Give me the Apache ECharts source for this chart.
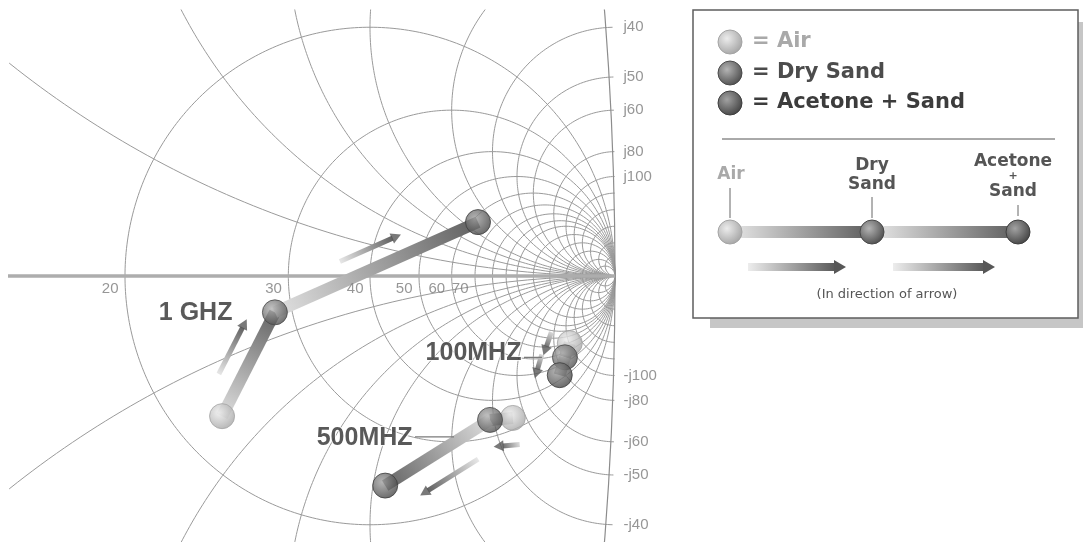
<!DOCTYPE html>
<html>
<head>
<meta charset="utf-8">
<script src="https://cdn.jsdelivr.net/npm/echarts@6/dist/echarts.min.js"></script>
<style>
  html, body { margin: 0; padding: 0; background: #fff; }
  #chart { width: 1083px; height: 542px; }
</style>
</head>
<body>
<div id="chart"></div>
<script>
/* ------------------------------------------------------------------ */
/*  data                                                              */
/* ------------------------------------------------------------------ */
const materials = ['Air', 'Dry Sand', 'Acetone + Sand'];
const frequencyNames = ['1 GHZ', '100MHZ', '500MHZ'];

// impedance (ohms), one value per material
const resistance1GHz = [22.2, 28.5, 62.2];
const reactance1GHz = [-7.8, -3.0, 24.1];
const resistance100MHz = [69, 55, 43];
const reactance100MHz = [-101, -88, -76];
const resistance500MHz = [33.4, 34.3, 23.6];
const reactance500MHz = [-45.7, -38.9, -21.2];

// chart grid (ohms)
const resistanceCircles = [20, 30, 40, 50, 60, 70, 80, 90, 100, 120, 150, 200, 300, 500];
const resistanceTicks = [20, 30, 40, 50, 60, 70];
const reactanceArcs = [5, 10, 15, 20, 30, 40, 50, 60, 80, 100, 120, 150, 200, 300, 500];
const reactanceTicks = [40, 50, 60, 80, 100];
const edgeResistance = 1.5;

/* ------------------------------------------------------------------ */
/*  layout / styles                                                   */
/* ------------------------------------------------------------------ */
const KX = 9.8;   // px per mS, horizontal
const KY = 9.95;  // px per mS, vertical
const ORIGIN_X = 615;
const ORIGIN_Y = 276;
const GRID = { left: 10, top: 10, right: 463, bottom: 0 };

// [t start, t end, side offset px] for the small direction arrows, per segment
const arrowPlacement = [
  [[0.31, 0.76, 22], [0.36, 0.62, 20]],
  [[-0.3, 0.74, -21], [0.2, 1.05, -23]],
  [[-0.2, 0.55, 27], [0.25, 0.73, 27]],
];
// frequency caption: gap left of the Dry Sand marker, vertical shift, leader line
const captionPlacement = [
  { distance: 42, dy: 1, leader: null },
  { distance: 43, dy: -4, leader: [-41, -23, 0] },
  { distance: 77, dy: 18, leader: [-75, -36, 17] },
];

const sphere = (c0, c1) =>
  new echarts.graphic.RadialGradient(0.38, 0.36, 0.66, [
    { offset: 0, color: c0 },
    { offset: 1, color: c1 },
  ]);
const materialFill = () => [
  sphere('#ececec', '#a6a6a6'),
  sphere('#b4b4b4', '#505050'),
  sphere('#a2a2a2', '#464646'),
];
const materialBorder = ['#a4a4a4', '#4a4a4a', '#3e3e3e'];
const materialText = ['#a9a9a9', '#4c4c4c', '#3c3c3c'];

/* ------------------------------------------------------------------ */
/*  impedance -> admittance plane (mS), drawn as [-G, -B]             */
/* ------------------------------------------------------------------ */
const toPlane = (r, x) => {
  if (!isFinite(r)) return [0, 0];
  const m = r * r + x * x;
  return [(-1000 * r) / m, (1000 * x) / m];
};

const resistanceCircle = r => {
  const pts = [[0, 0]];
  const n = 400;
  for (let i = 1; i < n; i++) {
    const t = -Math.PI / 2 + (Math.PI * i) / n;
    pts.push(toPlane(r, r * Math.tan(t)));
  }
  pts.push([0, 0]);
  return pts;
};

const reactanceArc = x => {
  const pts = [];
  const n = 300;
  const t0 = Math.atan(0.4 / Math.abs(x));
  for (let i = 0; i < n; i++) {
    const t = t0 + ((Math.PI / 2 - t0) * i) / n;
    pts.push(toPlane(Math.abs(x) * Math.tan(t), x));
  }
  pts.push([0, 0]);
  return pts;
};

// shift a plane point by screen pixels
const nudge = (p, dx, dy) => [p[0] + dx / KX, p[1] - dy / KY];

const gradientAlong = (p, q, from, to) =>
  new echarts.graphic.LinearGradient(
    q[0] >= p[0] ? 0 : 1,
    p[1] >= q[1] ? 0 : 1,
    q[0] >= p[0] ? 1 : 0,
    p[1] >= q[1] ? 1 : 0,
    [
      { offset: 0, color: from },
      { offset: 1, color: to },
    ]
  );

const frequencySets = [
  { name: frequencyNames[0], r: resistance1GHz, x: reactance1GHz },
  { name: frequencyNames[1], r: resistance100MHz, x: reactance100MHz },
  { name: frequencyNames[2], r: resistance500MHz, x: reactance500MHz },
];

/* ------------------------------------------------------------------ */
/*  series                                                            */
/* ------------------------------------------------------------------ */
const series = [];

const plainLine = (data, width, color, z) => ({
  type: 'line',
  data,
  symbol: 'none',
  showSymbol: false,
  silent: true,
  animation: false,
  clip: true,
  z,
  lineStyle: { width, color, cap: 'butt' },
  emphasis: { disabled: true },
});

resistanceCircles.forEach(r => series.push(plainLine(resistanceCircle(r), 1, '#9a9a9a', 1)));
reactanceArcs.forEach(x => {
  series.push(plainLine(reactanceArc(x), 1, '#9a9a9a', 1));
  series.push(plainLine(reactanceArc(-x), 1, '#9a9a9a', 1));
});
series.push(plainLine(resistanceCircle(edgeResistance), 1.2, '#8c8c8c', 1));
series.push(plainLine([toPlane(5, 0), [0, 0]], 3.5, '#adadad', 2));

// tick labels
series.push({
  type: 'scatter',
  data: resistanceTicks.map(r => [...toPlane(r, 0), r]),
  symbolSize: 1,
  itemStyle: { color: 'rgba(0,0,0,0)' },
  silent: true,
  clip: false,
  z: 6,
  label: {
    show: true,
    position: 'left',
    distance: 6,
    offset: [0, 13],
    formatter: p => String(p.value[2]),
    fontFamily: 'Liberation Sans',
    fontSize: 15,
    color: '#7c7c7c',
  },
});
series.push({
  type: 'scatter',
  data: reactanceTicks
    .flatMap(x => [x, -x])
    .map(x => [...toPlane(0, x), x]),
  symbolSize: 1,
  itemStyle: { color: 'rgba(0,0,0,0)' },
  silent: true,
  clip: false,
  z: 6,
  label: {
    show: true,
    position: 'right',
    distance: 8,
    formatter: p => (p.value[2] > 0 ? 'j' : '-j') + Math.abs(p.value[2]),
    fontFamily: 'Liberation Sans',
    fontSize: 15,
    color: '#7c7c7c',
  },
});

// measurement bars and direction arrows
const arrowHeads = [];
frequencySets.forEach((f, fi) => {
  const pts = f.r.map((r, i) => toPlane(r, f.x[i]));
  for (let s = 0; s < 2; s++) {
    const p = pts[s];
    const q = pts[s + 1];
    series.push({
      ...plainLine([p, q], 12, gradientAlong(p, q, '#e6e6e6', '#5c5c5c'), 3),
      clip: false,
    });

    const [t0, t1, off] = arrowPlacement[fi][s];
    const a = [p[0] * KX, p[1] * KY];
    const b = [q[0] * KX, q[1] * KY];
    const len = Math.hypot(b[0] - a[0], b[1] - a[1]);
    const d = [(b[0] - a[0]) / len, (b[1] - a[1]) / len];
    const nrm = [-d[1], d[0]];
    const at = (t, extra) => [
      (a[0] + d[0] * (t * len + extra) + nrm[0] * off) / KX,
      (a[1] + d[1] * (t * len + extra) + nrm[1] * off) / KY,
    ];
    const s0 = at(t0, 0);
    const s1 = at(t1, 0);
    series.push({
      ...plainLine([s0, s1], 5, gradientAlong(s0, s1, '#efefef', '#5a5a5a'), 4),
      clip: false,
    });
    arrowHeads.push({
      value: at(t1, 4),
      symbolRotate: (Math.atan2(d[1], d[0]) * 180) / Math.PI - 90,
    });
  }
});
series.push({
  type: 'scatter',
  data: arrowHeads,
  symbol: 'triangle',
  symbolSize: [11, 10],
  itemStyle: { color: '#575757' },
  silent: true,
  clip: false,
  animation: false,
  z: 4,
});

// material markers
const fills = materialFill();
materials.forEach((m, i) => {
  series.push({
    type: 'scatter',
    name: m,
    data: frequencySets.map(f => toPlane(f.r[i], f.x[i])),
    symbolSize: 25,
    itemStyle: { color: fills[i], borderColor: materialBorder[i], borderWidth: 1 },
    silent: true,
    clip: false,
    animation: false,
    z: 5,
  });
});

// frequency captions and leader lines
frequencySets.forEach((f, fi) => {
  const dry = toPlane(f.r[1], f.x[1]);
  const place = captionPlacement[fi];
  if (place.leader) {
    const [from, to, dy] = place.leader;
    series.push(plainLine([nudge(dry, from, dy), nudge(dry, to, dy)], 1.2, '#7a7a7a', 6));
  }
  series.push({
    type: 'scatter',
    data: [dry],
    symbolSize: 1,
    itemStyle: { color: 'rgba(0,0,0,0)' },
    silent: true,
    clip: false,
    z: 7,
    label: {
      show: true,
      position: 'left',
      distance: place.distance,
      offset: [0, place.dy],
      formatter: f.name,
      fontFamily: 'Liberation Sans',
      fontWeight: 'bold',
      fontSize: 25,
      color: '#303030',
      textBorderColor: '#fff',
      textBorderWidth: 2,
    },
  });
});

/* ------------------------------------------------------------------ */
/*  key box (drawn on the right)                                      */
/* ------------------------------------------------------------------ */
const keyFills = materialFill();
const boldFont = size => `bold ${size}px "DejaVu Sans"`;
const keyRows = [42, 73, 103];
const keyLineY = 232;
const keyX = [730, 872, 1018];

const graphic = [
  { type: 'rect', z: 10, shape: { x: 710, y: 22, width: 373, height: 306 }, style: { fill: '#c6c6c6' } },
  {
    type: 'rect',
    z: 11,
    shape: { x: 693, y: 10, width: 385, height: 308 },
    style: { fill: '#fff', stroke: '#5e5e5e', lineWidth: 1.5 },
  },
  { type: 'line', z: 12, shape: { x1: 722, y1: 139, x2: 1055, y2: 139 }, style: { stroke: '#555', lineWidth: 1 } },
];

materials.forEach((m, i) => {
  graphic.push({
    type: 'circle',
    z: 13,
    shape: { cx: 730, cy: keyRows[i], r: 12 },
    style: { fill: keyFills[i], stroke: materialBorder[i], lineWidth: 1 },
  });
  graphic.push({
    type: 'text',
    z: 13,
    x: 752,
    y: keyRows[i],
    style: { text: '= ' + m, font: boldFont(21), fill: materialText[i], align: 'left', verticalAlign: 'middle' },
  });
});

// bars between the three states
[[0, 1], [1, 2]].forEach(([s, e]) => {
  graphic.push({
    type: 'rect',
    z: 12,
    shape: { x: keyX[s], y: keyLineY - 6, width: keyX[e] - keyX[s], height: 12 },
    style: {
      fill: new echarts.graphic.LinearGradient(0, 0, 1, 0, [
        { offset: 0, color: '#e8e8e8' },
        { offset: 1, color: '#5c5c5c' },
      ]),
    },
  });
});
materials.forEach((m, i) => {
  graphic.push({
    type: 'circle',
    z: 13,
    shape: { cx: keyX[i], cy: keyLineY, r: 12 },
    style: { fill: keyFills[i], stroke: materialBorder[i], lineWidth: 1 },
  });
});

// captions above the key line
const tick = (x, y1, y2) => ({
  type: 'line',
  z: 12,
  shape: { x1: x, y1, x2: x, y2 },
  style: { stroke: '#666', lineWidth: 1 },
});
const caption = (text, x, y, size, fill) => ({
  type: 'text',
  z: 13,
  x,
  y,
  style: { text, font: boldFont(size), fill, align: 'center', verticalAlign: 'middle' },
});
graphic.push(
  tick(730, 188, 218),
  tick(872, 197, 218),
  tick(1018, 205, 216),
  caption('Air', 731, 175, 17, materialText[0]),
  caption('Dry', 872, 166, 17, '#555'),
  caption('Sand', 872, 185, 17, '#555'),
  caption('Acetone', 1013, 162, 17, '#555'),
  caption('+', 1013, 176, 11, '#555'),
  caption('Sand', 1013, 192, 17, '#555')
);

// two direction arrows
[[748, 846], [893, 995]].forEach(([x0, x1]) => {
  graphic.push({
    type: 'rect',
    z: 12,
    shape: { x: x0, y: 263, width: x1 - x0 - 11, height: 8 },
    style: {
      fill: new echarts.graphic.LinearGradient(0, 0, 1, 0, [
        { offset: 0, color: '#ededed' },
        { offset: 1, color: '#5a5a5a' },
      ]),
    },
  });
  graphic.push({
    type: 'polygon',
    z: 12,
    shape: { points: [[x1 - 12, 260], [x1, 267], [x1 - 12, 274]] },
    style: { fill: '#575757' },
  });
});
graphic.push({
  type: 'text',
  z: 13,
  x: 887,
  y: 295,
  style: {
    text: '(In direction of arrow)',
    font: '13px "DejaVu Sans"',
    fill: '#555',
    align: 'center',
    verticalAlign: 'middle',
  },
});

/* ------------------------------------------------------------------ */
/*  chart                                                             */
/* ------------------------------------------------------------------ */
const chart = echarts.init(document.getElementById('chart'));
chart.setOption({
  animation: false,
  backgroundColor: '#fff',
  grid: GRID,
  xAxis: {
    type: 'value',
    min: (GRID.left - ORIGIN_X) / KX,
    max: (1083 - GRID.right - ORIGIN_X) / KX,
    show: false,
  },
  yAxis: {
    type: 'value',
    min: -(542 - GRID.bottom - ORIGIN_Y) / KY,
    max: (ORIGIN_Y - GRID.top) / KY,
    show: false,
  },
  series,
  graphic,
});
</script>
</body>
</html>
